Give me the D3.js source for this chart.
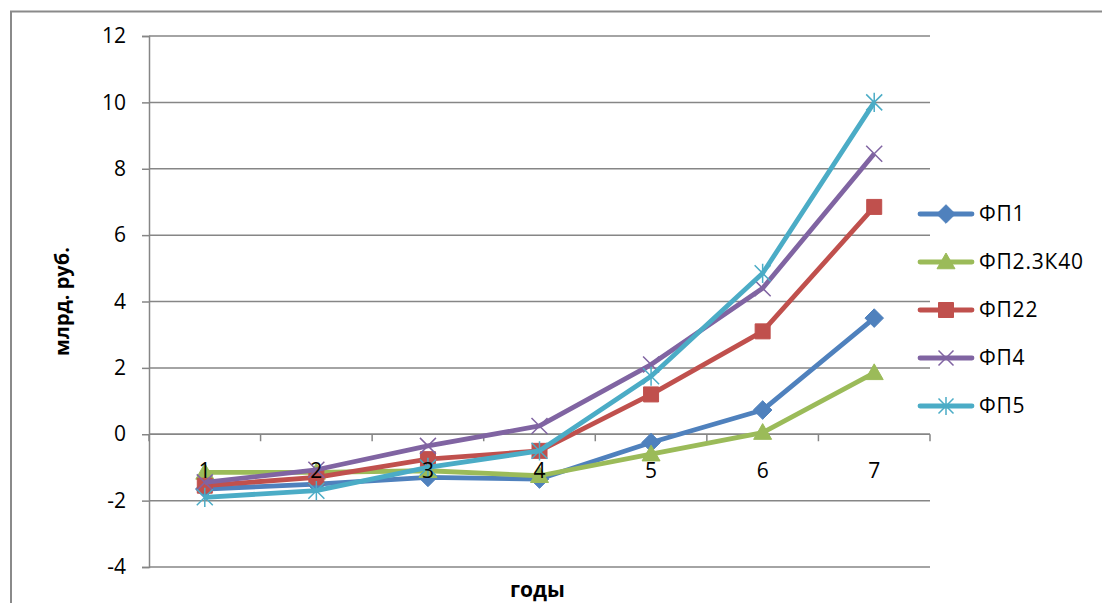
<!DOCTYPE html>
<html><head><meta charset="utf-8">
<script src="https://cdn.jsdelivr.net/npm/d3@7"></script>
<style>body{margin:0;background:#fff;} text{font-family:"Open Sans",Calibri,sans-serif;}</style>
</head><body>
<svg id="chart" width="1102" height="603"></svg>
<script>
const categories = ["1","2","3","4","5","6","7"];
const seriesNames = ["ФП1","ФП2.3К40","ФП22","ФП4","ФП5"];
const fp1   = [-1.65,-1.5,-1.3,-1.35,-0.25,0.73,3.5];
const fp2   = [-1.15,-1.15,-1.1,-1.25,-0.6,0.05,1.85];
const fp22  = [-1.55,-1.3,-0.75,-0.5,1.2,3.1,6.85];
const fp4   = [-1.45,-1.07,-0.35,0.25,2.1,4.4,8.45];
const fp5   = [-1.9,-1.7,-1.0,-0.5,1.75,4.85,10.0];
const yTicks = [-4,-2,0,2,4,6,8,10,12];
const colors = ["#4F81BD","#9BBB59","#C0504D","#8064A2","#4BACC6"];
const markers = ["diamond","triangle","square","x","star"];
const yTitle = "млрд. руб.";
const xTitle = "годы";

const series = [fp1,fp2,fp22,fp4,fp5].map((v,i)=>({name:seriesNames[i],values:v,color:colors[i],marker:markers[i]}));

const svg = d3.select("#chart");
const L=149, R=930, T=36, B=567;
// outer border
svg.append("rect").attr("x",11).attr("y",11.5).attr("width",1200).attr("height",700)
  .attr("fill","none").attr("stroke","#8a8a8a").attr("stroke-width",2);

const x = d3.scaleBand().domain(categories).range([L,R]).padding(0);
const y = d3.scaleLinear().domain([-4,12]).range([B,T]);

// gridlines
svg.append("g").selectAll("line").data(yTicks).join("line")
  .attr("x1",L).attr("x2",R).attr("y1",d=>y(d)).attr("y2",d=>y(d))
  .attr("stroke","#868686").attr("stroke-width",1.5);

// y axis
const yAxis = svg.append("g").attr("transform",`translate(${L},0)`)
  .call(d3.axisLeft(y).tickValues(yTicks).tickSize(7).tickPadding(16).tickFormat(d=>String(d)));
yAxis.select(".domain").attr("stroke","#868686").attr("stroke-width",1.5);
yAxis.selectAll(".tick line").attr("stroke","#868686").attr("stroke-width",1.5);
yAxis.selectAll("text").attr("font-size",21).attr("fill","#000").attr("font-family","'Open Sans',sans-serif");

// x axis at y=0
const xAxisG = svg.append("g").attr("transform",`translate(0,${y(0)})`);
xAxisG.append("line").attr("x1",L).attr("x2",R).attr("stroke","#868686").attr("stroke-width",1.5);
const bounds = categories.map(c=>x(c)).concat([R]);
xAxisG.selectAll("line.tk").data(bounds).join("line").attr("class","tk")
  .attr("x1",d=>d).attr("x2",d=>d).attr("y1",0).attr("y2",7)
  .attr("stroke","#868686").attr("stroke-width",1.5);

// lines
const line = d3.line().x((d,i)=>x(categories[i])+x.bandwidth()/2).y(d=>y(d));
function markerPath(type,size){
  const s=size;
  switch(type){
    case "diamond": return `M0,${-s*0.62}L${s*0.62},0L0,${s*0.62}L${-s*0.62},0Z`;
    case "triangle": return `M0,${-s*0.6}L${s*0.6},${s*0.45}L${-s*0.6},${s*0.45}Z`;
    case "square": return `M${-s/2},${-s/2}h${s}v${s}h${-s}Z`;
    case "x": return `M${-s/2},${-s/2}L${s/2},${s/2}M${s/2},${-s/2}L${-s/2},${s/2}`;
    case "star": return `M${-s/2},${-s/2}L${s/2},${s/2}M${s/2},${-s/2}L${-s/2},${s/2}M0,${-s*0.6}L0,${s*0.6}`;
  }
}
function drawMarker(g,s,cx,cy,size){
  const filled = s.marker!=="x" && s.marker!=="star";
  g.append("path").attr("d",markerPath(s.marker,size)).attr("transform",`translate(${cx},${cy})`)
    .attr("fill",filled?s.color:"none").attr("stroke",s.color).attr("stroke-width",filled?1:1.5);
}
series.forEach(s=>{
  const g = svg.append("g");
  g.append("path").datum(s.values).attr("d",line).attr("fill","none")
    .attr("stroke",s.color).attr("stroke-width",4.8).attr("stroke-linejoin","round");
  s.values.forEach((v,i)=>drawMarker(g,s,x(categories[i])+x.bandwidth()/2,y(v),s.marker==="square"?15:(s.marker==="x"||s.marker==="star"?16:15)));
});

// category labels
svg.append("g").selectAll("text").data(categories).join("text")
  .attr("x",d=>x(d)+x.bandwidth()/2).attr("y",y(0)+44).attr("text-anchor","middle")
  .attr("font-size",21).attr("fill","#000").text(d=>d);

// axis titles
svg.append("text").attr("transform",`translate(69,${(T+B)/2}) rotate(-90)`).attr("text-anchor","middle")
  .attr("font-size",20).attr("font-weight","bold").text(yTitle);
svg.append("text").attr("x",(L+R)/2 - 2).attr("y",597).attr("text-anchor","middle")
  .attr("font-size",21).attr("font-weight","bold").text(xTitle);

// legend
const lg = svg.append("g");
series.forEach((s,i)=>{
  const yy = 214 + i*48;
  lg.append("line").attr("x1",920).attr("x2",972).attr("y1",yy).attr("y2",yy)
    .attr("stroke",s.color).attr("stroke-width",4.8).attr("stroke-linecap","round");
  drawMarker(lg,s,946,yy,s.marker==="square"?15:15);
  lg.append("text").attr("x",979).attr("y",yy+7).attr("font-size",21).attr("letter-spacing",0.8).attr("fill","#000").text(s.name);
});
</script>
</body></html>
